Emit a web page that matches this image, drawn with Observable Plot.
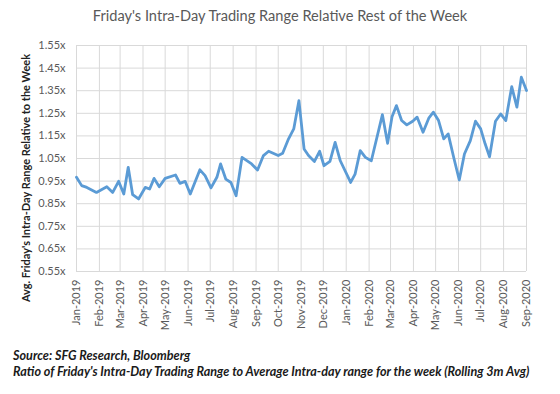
<!DOCTYPE html>
<html>
<head>
<meta charset="utf-8">
<script src="https://cdn.jsdelivr.net/npm/d3@7"></script>
<script src="https://cdn.jsdelivr.net/npm/@observablehq/plot@0.6"></script>
<style>
  html, body { margin: 0; padding: 0; background: #fff; }
  body { width: 560px; height: 394px; position: relative; overflow: hidden; font-family: Lato, "Open Sans", sans-serif; }
  #title { position: absolute; top: 7px; left: 0; width: 560px; text-align: center; font-size: 14.6px; color: #595959; }
  #chart { position: absolute; top: 30px; left: 0; }
  #ylabel { position: absolute; left: 25px; top: 178px; transform: translate(-50%, -50%) rotate(-90deg); white-space: nowrap; font-size: 11px; font-weight: bold; color: #222; }
  .cap { position: absolute; left: 13px; font-size: 12.6px; font-weight: bold; font-style: italic; color: #1a1a1a; white-space: nowrap; }
  #cap1 { top: 348px; }
  #cap2 { top: 364px; }
</style>
</head>
<body>
<div id="title">Friday's Intra-Day Trading Range Relative Rest of the Week</div>
<div id="chart"></div>
<div id="ylabel">Avg. Friday's Intra-Day Range Relative to the Week</div>
<div class="cap" id="cap1">Source: SFG Research, Bloomberg</div>
<div class="cap" id="cap2">Ratio of Friday's Intra-Day Trading Range to Average Intra-day range for the week (Rolling 3m Avg)</div>
<script>
const dates = [
  "2019-01-01","2019-01-08","2019-01-15","2019-01-28","2019-02-11","2019-02-19","2019-02-27","2019-03-06",
  "2019-03-12","2019-03-18","2019-03-26","2019-04-04","2019-04-10","2019-04-16","2019-04-23","2019-05-01",
  "2019-05-15","2019-05-21","2019-05-28","2019-06-04","2019-06-17","2019-06-24","2019-07-02","2019-07-10",
  "2019-07-15","2019-07-22","2019-07-29","2019-08-05","2019-08-13","2019-08-26","2019-09-03","2019-09-11",
  "2019-09-18","2019-10-01","2019-10-07","2019-10-15","2019-10-22","2019-10-29","2019-11-05","2019-11-11",
  "2019-11-19","2019-11-26","2019-12-02","2019-12-10","2019-12-17","2019-12-24","2020-01-07","2020-01-13",
  "2020-01-20","2020-01-27","2020-02-04","2020-02-19","2020-02-26","2020-03-03","2020-03-09","2020-03-16",
  "2020-03-23","2020-03-31","2020-04-06","2020-04-14","2020-04-22","2020-04-28","2020-05-05","2020-05-12",
  "2020-05-18","2020-05-26","2020-06-02","2020-06-09","2020-06-17","2020-06-24","2020-07-01","2020-07-07",
  "2020-07-13","2020-07-21","2020-07-28","2020-08-04","2020-08-12","2020-08-19","2020-08-25","2020-09-01"
];
const ratios = [
  0.967,0.930,0.922,0.900,0.925,0.900,0.949,0.893,
  1.011,0.890,0.871,0.922,0.915,0.962,0.925,0.962,
  0.977,0.940,0.949,0.893,1.000,0.974,0.920,0.967,
  1.026,0.959,0.944,0.885,1.055,1.026,0.999,1.063,
  1.082,1.063,1.073,1.137,1.181,1.306,1.092,1.063,
  1.037,1.082,1.018,1.037,1.121,1.040,0.944,0.981,
  1.085,1.055,1.040,1.244,1.117,1.235,1.284,1.218,
  1.199,1.215,1.233,1.166,1.230,1.255,1.218,1.137,
  1.159,1.048,0.955,1.070,1.129,1.215,1.181,1.115,
  1.058,1.215,1.247,1.218,1.368,1.277,1.410,1.351
];
const monthTicks = [
  "2019-01-01","2019-02-01","2019-03-01","2019-04-01","2019-05-01","2019-06-01","2019-07-01",
  "2019-08-01","2019-09-01","2019-10-01","2019-11-01","2019-12-01","2020-01-01","2020-02-01",
  "2020-03-01","2020-04-01","2020-05-01","2020-06-01","2020-07-01","2020-08-01","2020-09-01"
];
const yTicks = [0.55,0.65,0.75,0.85,0.95,1.05,1.15,1.25,1.35,1.45,1.55];

const data = dates.map((d, i) => ({date: new Date(d), value: ratios[i]}));
const xTickDates = monthTicks.map(d => new Date(d));
const fmt = d3.utcFormat("%b-%Y");

const chart = Plot.plot({
  width: 560,
  height: 310,
  marginLeft: 76,
  marginRight: 34,
  marginTop: 15,
  marginBottom: 69,
  style: {fontFamily: "Lato, 'Open Sans', sans-serif", fontSize: "11px", color: "#595959", background: "#fff"},
  x: {type: "utc", domain: [xTickDates[0], xTickDates[xTickDates.length - 1]]},
  y: {domain: [0.55, 1.55]},
  marks: [
    Plot.gridX(xTickDates, {stroke: "#d9d9d9", strokeOpacity: 1, strokeWidth: 1}),
    Plot.gridY(yTicks, {stroke: "#d9d9d9", strokeOpacity: 1, strokeWidth: 1}),
    Plot.axisY(yTicks, {tickSize: 0, tickPadding: 11, tickFormat: d => d.toFixed(2) + "x", label: null, fill: "#595959"}),
    Plot.axisX(xTickDates, {tickSize: 0, tickPadding: 8, tickRotate: -90, tickFormat: d => fmt(d), label: null, fill: "#595959"}),
    Plot.line(data, {x: "date", y: "value", stroke: "#5b9bd5", strokeWidth: 2.8, strokeLinejoin: "round"})
  ]
});
document.getElementById("chart").appendChild(chart);
</script>
</body>
</html>
